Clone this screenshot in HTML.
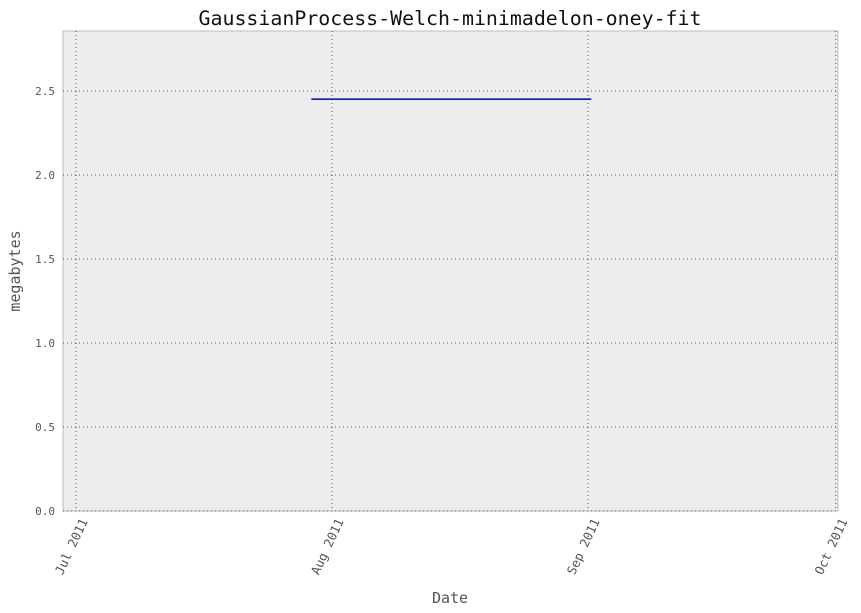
<!DOCTYPE html>
<html><head><meta charset="utf-8"><style>
body{margin:0;background:#fff;}
svg{display:block;font-family:"DejaVu Sans Mono","Liberation Mono",monospace;}
</style></head><body>
<svg id="chart" width="861" height="613"></svg>
<script>
const yTicks=[0.0,0.5,1.0,1.5,2.0,2.5];
const xTickLabels=["Jul 2011","Aug 2011","Sep 2011","Oct 2011"];
const xTickDays=[0,31,62,92];
const seriesDays=[28.5,62.4];
const seriesValues=[2.452,2.452];
const NS="http://www.w3.org/2000/svg";
const svg=document.getElementById('chart');
const L=63,R=838,T=31,B=511;
const x0=76,pxPerDay=8.258;
function xs(d){return x0+d*pxPerDay;}
function ys(v){return B-v*168;}
function mk(t,a,txt){const e=document.createElementNS(NS,t);for(const k in a)e.setAttribute(k,a[k]);if(txt!==undefined)e.textContent=txt;svg.appendChild(e);return e;}
let bg=mk('rect',{x:L,y:T,width:R-L,height:B-T,fill:'#ececec',stroke:'#bcbcbc','stroke-width':1});


yTicks.forEach(v=>{
  const y=ys(v);
  let g=mk('line',{x1:L,x2:R,y1:y,y2:y,stroke:'#555','stroke-width':1,'stroke-dasharray':'1,3'});
  
  
  let t=mk('text',{x:L-8,y:y+4,'text-anchor':'end','font-size':11,fill:'#555'},v.toFixed(1));
  
  
});
xTickDays.forEach((d,i)=>{
  const x=xs(d);
  let g=mk('line',{x1:x,x2:x,y1:T,y2:B,stroke:'#555','stroke-width':1,'stroke-dasharray':'1,3'});
  
  
  const ax=x+12,ay=B+10;
  let t=mk('text',{x:ax,y:ay,'text-anchor':'end','font-size':12.5,fill:'#555',transform:`rotate(-65 ${ax} ${ay})`},xTickLabels[i]);
  
  
});
let pts=seriesDays.map((d,i)=>xs(d)+','+ys(seriesValues[i])).join(' ');
let line=mk('polyline',{points:pts,fill:'none',stroke:'#0000cc','stroke-width':1.5});


let title=mk('text',{x:450,y:25,'text-anchor':'middle','font-size':19.9,fill:'#111'},'GaussianProcess-Welch-minimadelon-oney-fit');


let xl=mk('text',{x:450,y:603,'text-anchor':'middle','font-size':15,fill:'#555'},'Date');


let yl=mk('text',{x:20,y:271,'text-anchor':'middle','font-size':15,fill:'#555',transform:'rotate(-90 20 271)'},'megabytes');


</script>
</body></html>
